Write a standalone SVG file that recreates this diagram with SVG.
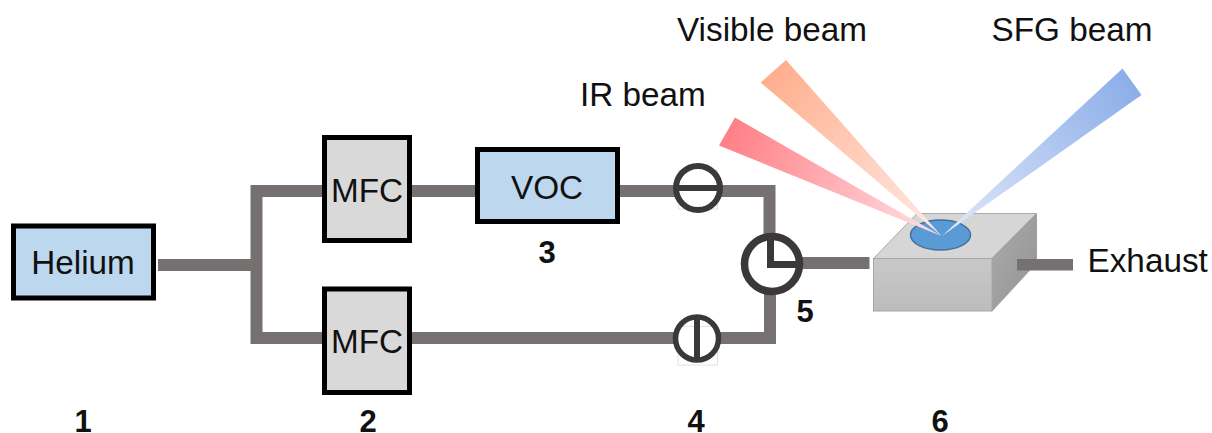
<svg xmlns="http://www.w3.org/2000/svg" width="1212" height="433" viewBox="0 0 1212 433">
<style>
text{font-family:"Liberation Sans",Arial,sans-serif;font-size:33.3px;fill:#111}
.n{font-weight:bold;font-size:31px;text-anchor:middle}
.c{text-anchor:middle}
.pipe{fill:none;stroke:#767171;stroke-width:12;stroke-linejoin:miter}
.box{stroke:#000;stroke-width:5}
.blue{fill:#bdd7ee}
.gray{fill:#d9d9d9}
.valve{fill:none;stroke:#3b3838;stroke-linejoin:miter}
.ghost{fill:none;stroke:#e2e2e2;stroke-width:1}
</style>
<defs>
<linearGradient id="ir" gradientUnits="userSpaceOnUse" x1="727" y1="131" x2="942" y2="236"><stop offset="0" stop-color="#ff7f86"/><stop offset="1" stop-color="#ffe3e6"/></linearGradient>
<linearGradient id="vis" gradientUnits="userSpaceOnUse" x1="773" y1="71" x2="942" y2="236"><stop offset="0" stop-color="#ffae8e"/><stop offset="1" stop-color="#ffece6"/></linearGradient>
<linearGradient id="sfg" gradientUnits="userSpaceOnUse" x1="1132" y1="82" x2="942" y2="236"><stop offset="0" stop-color="#8caee8"/><stop offset="1" stop-color="#e2eafa"/></linearGradient>
<linearGradient id="front" x1="0" y1="0" x2="0" y2="1"><stop offset="0" stop-color="#c8c8c8"/><stop offset="1" stop-color="#bcbcbc"/></linearGradient>
<linearGradient id="side" x1="0" y1="0" x2="1" y2="1"><stop offset="0" stop-color="#aaaaaa"/><stop offset="1" stop-color="#949494"/></linearGradient>
</defs>
<g id="connectors">
<path class="pipe" d="M158 265H256.500"/>
<path class="pipe" d="M322 191H256.500V338H322"/>
<path class="pipe" d="M412 191H476"/>
<path class="pipe" d="M619 191H769.500V240"/>
<path class="pipe" d="M412 338H770V290"/>
<path class="pipe" d="M796 263H869.500"/>
</g>
<g id="helium"><rect class="box blue" x="13.500" y="226" width="140" height="72"/><text class="c" x="83" y="274">Helium</text></g>
<g id="mfc-top"><rect class="box gray" x="324.500" y="137.500" width="85" height="103"/><text class="c" x="367" y="202">MFC</text></g>
<g id="mfc-bottom"><rect class="box gray" x="324.500" y="289" width="85" height="103.500"/><text class="c" x="367" y="353">MFC</text></g>
<g id="voc"><rect class="box blue" x="477.500" y="149.500" width="140" height="72"/><text class="c" x="547" y="199">VOC</text></g>
<g id="valve-top">
<rect class="ghost" x="678.500" y="170.500" width="39" height="38.500"/>
<circle cx="698" cy="188" r="22" fill="#fff" stroke="#3b3838" stroke-width="6"/>
<path class="valve" stroke-width="6" d="M676 188H720"/>
</g>
<g id="valve-bottom">
<circle cx="697" cy="338.500" r="21.500" fill="#fff"/>
<rect class="ghost" x="678" y="326.500" width="39.500" height="38.500"/>
<circle cx="697" cy="338.500" r="21.500" fill="none" stroke="#3b3838" stroke-width="5.500"/>
<path class="valve" stroke-width="6" d="M697 317V360"/>
</g>
<g id="valve-three-way">
<circle cx="772" cy="264" r="27.500" fill="#fff" stroke="#3b3838" stroke-width="7.500"/>
<path class="valve" stroke-width="7" d="M770.500 240V264.500H798"/>
</g>
<g id="chamber">
<path d="M873.500 258.500L917 213.500H1036.500L992 258.500Z" fill="#d6d6d6" stroke="#a9a9a9" stroke-width="1"/>
<path d="M992 258.500L1036.500 213.500V263L992 311Z" fill="url(#side)" stroke="#a0a0a0" stroke-width="1"/>
<rect x="873.500" y="258.500" width="118.500" height="52.500" fill="url(#front)" stroke="#a6a6a6" stroke-width="1"/>
<ellipse cx="940.500" cy="235" rx="30" ry="15" fill="#5b9bd5" stroke="#41719c" stroke-width="1.500"/>
<rect x="1017" y="259" width="56" height="11.500" fill="#767171"/>
</g>
<g id="beams">
<polygon points="735,117.500 719,145.500 941.500,236" fill="url(#ir)"/>
<polygon points="786,60 760.500,82.500 941.500,236" fill="url(#vis)"/>
<polygon points="1122.500,68.500 1141.500,95 942,236" fill="url(#sfg)"/>
</g>
<g id="labels">
<text x="677" y="41">Visible beam</text>
<text x="991.500" y="41">SFG beam</text>
<text x="580" y="106">IR beam</text>
<text x="1087.500" y="272">Exhaust</text>
<text class="n" x="83" y="432">1</text>
<text class="n" x="368" y="432">2</text>
<text class="n" x="547" y="263">3</text>
<text class="n" x="696" y="432">4</text>
<text class="n" x="805" y="322">5</text>
<text class="n" x="940" y="432">6</text>
</g>
</svg>
